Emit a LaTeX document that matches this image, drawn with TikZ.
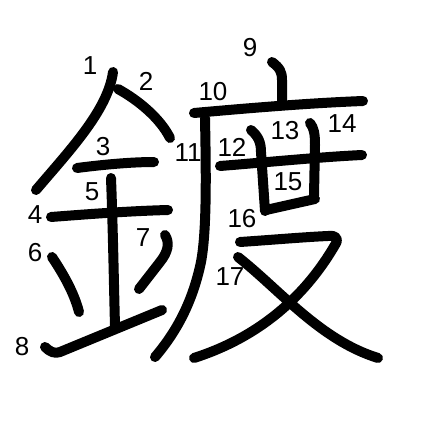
\documentclass[tikz,border=0pt]{standalone}
\usepackage{fontspec}
\setmainfont{Liberation Sans}
\begin{document}
\begin{tikzpicture}[x=1pt,y=-1pt,
  strk/.style={line width=10pt,line cap=round,line join=round},
  num/.style={font=\fontsize{26}{26}\selectfont,inner sep=0pt}]
\useasboundingbox[fill=white] (0,0) rectangle (447,447);
% strokes
\draw[strk] (113,72) .. controls (108,110) and (70,150) .. (36,190); % 1
\draw[strk] (118,89) .. controls (138,100) and (160,118) .. (170,138); % 2
\draw[strk] (77,168) .. controls (100,165) and (130,162) .. (154,162); % 3
\draw[strk] (51,217) .. controls (90,214) and (130,211) .. (168,210); % 4
\draw[strk] (111,178) .. controls (113,230) and (114,290) .. (115,326); % 5
\draw[strk] (52,257) .. controls (62,272) and (74,292) .. (79,312); % 6
\draw[strk] (165,235) .. controls (170,243) and (168,252) .. (160,262) -- (139,289); % 7
\draw[strk] (45,347) .. controls (50,352) and (55,354) .. (60,352) -- (162,310); % 8
\draw[strk] (272,62) .. controls (280,68) and (282,72) .. (282,80) -- (282,102); % 9
\draw[strk] (194,113) .. controls (250,108) and (310,103) .. (363,101); % 10
\draw[strk] (205,118) .. controls (206,170) and (207,230) .. (201,262) .. controls (193,300) and (178,330) .. (155,357); % 11
\draw[strk] (220,166) .. controls (270,162) and (320,157) .. (362,155); % 12
\draw[strk] (251,130) .. controls (258,136) and (261,142) .. (261,152) -- (265,211); % 13
\draw[strk] (310,123) .. controls (314,128) and (315,134) .. (315,145) -- (314,196); % 14
\draw[strk] (266,210) -- (315,199); % 15
\draw[strk] (240,242) .. controls (270,240) and (305,237) .. (328,236) .. controls (337,235) and (339,239) .. (335,245) .. controls (300,305) and (250,340) .. (194,358); % 16
\draw[strk] (238,257) .. controls (280,290) and (320,340) .. (378,358); % 17
% numbers
\node[num] (n1) at (90,66) {1};
\node[num] (n2) at (146,81) {2};
\node[num] (n3) at (103,147) {3};
\node[num] (n4) at (35,215) {4};
\node[num] (n5) at (92,192) {5};
\node[num] (n6) at (35,253) {6};
\node[num] (n7) at (143,238) {7};
\node[num] (n8) at (22,347) {8};
\node[num] (n9) at (250,48) {9};
\node[num] (n10) at (213,92) {10};
\node[num] (n11) at (188,153) {11};
\node[num] (n12) at (232,147) {12};
\node[num] (n13) at (285,131) {13};
\node[num] (n14) at (342,124) {14};
\node[num] (n15) at (288,182) {15};
\node[num] (n16) at (242,219) {16};
\node[num] (n17) at (230,277) {17};
\end{tikzpicture}
\end{document}
